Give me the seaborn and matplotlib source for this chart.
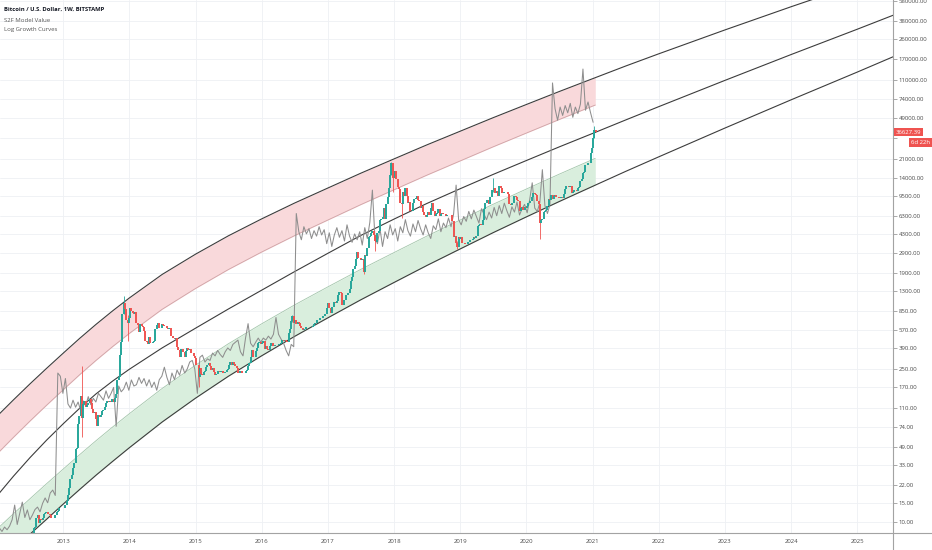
import numpy as np
import pandas as pd
import matplotlib
matplotlib.use('Agg')
import matplotlib.pyplot as plt
import seaborn as sns
from matplotlib.lines import Line2D
from matplotlib.ticker import FixedLocator, FixedFormatter, NullLocator

# Weekly closes BTC/USD (Bitstamp), one list per year
close_2012 = [6.7, 7.0, 7.7, 8.9, 9.1, 10.9, 11.5, 9.9, 10.6, 10.5, 11.0, 11.8, 12.2, 12.4,
              11.9, 11.8, 11.6, 10.8, 10.8, 11.0, 11.7, 12.4, 12.6, 13.4, 13.3, 13.4, 13.5]
close_2013 = [13.5, 14.2, 15.5, 17.5, 20.5, 24.5, 27, 31, 34.5, 46.5, 47, 78, 93, 142, 90, 119,
              128, 112, 117, 123, 133, 122, 108, 100, 102, 88, 76, 96, 91, 96, 104, 106, 113, 122,
              128, 124, 127, 124, 134, 125, 136, 149, 197, 213, 339, 440, 795, 1000, 880, 700,
              655, 732]
close_2014 = [900, 840, 820, 800, 830, 660, 630, 550, 650, 620, 600, 560, 450, 445, 420, 495,
              430, 435, 440, 450, 580, 630, 655, 595, 590, 640, 628, 620, 620, 590, 585, 590,
              500, 505, 478, 475, 478, 400, 375, 325, 385, 385, 355, 325, 365, 388, 370, 378,
              350, 350, 330, 318]
close_2015 = [275, 270, 210, 255, 225, 222, 235, 240, 260, 275, 285, 265, 245, 255, 235, 222,
              225, 240, 241, 236, 240, 230, 228, 233, 245, 250, 270, 292, 275, 292, 281, 264,
              257, 228, 229, 240, 230, 231, 232, 239, 247, 265, 284, 325, 372, 320, 325, 365,
              390, 435, 441, 422]
close_2016 = [430, 448, 385, 402, 378, 376, 402, 437, 433, 404, 414, 412, 416, 420, 420, 431,
              460, 448, 460, 455, 443, 530, 575, 685, 760, 660, 700, 650, 670, 655, 625, 590,
              570, 585, 575, 605, 608, 608, 602, 610, 617, 640, 657, 700, 705, 703, 730, 730,
              765, 770, 790, 900]
close_2017 = [1000, 900, 820, 920, 920, 1030, 1000, 1050, 1180, 1270, 1230, 970, 960, 1080,
              1200, 1180, 1250, 1350, 1580, 1720, 2040, 2200, 2520, 2950, 2600, 2580, 2500,
              2530, 1920, 2750, 2720, 3200, 4050, 4080, 4350, 4600, 4200, 3700, 3660, 4400,
              4600, 5700, 5900, 6150, 7400, 5900, 8000, 9300, 11200, 15000, 19000, 13800, 13800]
close_2018 = [16200, 13600, 11500, 11100, 8200, 8100, 10400, 9600, 11400, 9500, 8200, 8400,
              6900, 7000, 8300, 8900, 9200, 9600, 8700, 8500, 7350, 7700, 6750, 6450, 6150,
              6350, 6750, 6350, 7400, 8200, 7000, 6300, 6500, 6700, 7250, 6250, 6500, 6700,
              6600, 6600, 6300, 6400, 6350, 6400, 6350, 5600, 4000, 4100, 3550, 3250, 4000, 3850]
close_2019 = [4050, 3550, 3550, 3450, 3450, 3650, 3650, 3750, 3800, 3900, 4000, 3980, 4100,
              5050, 5150, 5300, 5200, 5750, 7200, 8200, 8700, 8700, 8000, 9300, 10800, 10800,
              11400, 10200, 10500, 9500, 11800, 11400, 10200, 10150, 10400, 10400, 10300,
              10000, 8050, 7900, 8300, 8200, 9550, 9300, 8800, 8500, 6900, 7400, 7500, 7100,
              7500, 7400]
close_2020 = [7750, 8200, 8650, 8600, 9350, 10150, 9900, 9650, 8550, 8000, 5350, 5800, 5900,
              6800, 6900, 7150, 7700, 8900, 8750, 9680, 8900, 9450, 9750, 9350, 9300, 9100,
              9070, 9250, 9200, 9950, 11100, 11680, 11900, 11650, 11700, 10250, 10330, 10930,
              10780, 10670, 11380, 11500, 13030, 13760, 15480, 15960, 18400, 18200, 19150,
              19200, 23800, 26250]
close_2021 = [32200, 38200, 36627.39]
first_weeks = ['2012-07-01', '2013-01-06', '2014-01-05', '2015-01-04', '2016-01-03',
               '2017-01-01', '2018-01-07', '2019-01-06', '2020-01-05', '2021-01-03']

# the longer wicks that show on the chart
wick_dates = ['2013-04-14', '2013-12-01', '2013-12-22', '2015-01-18', '2016-06-19',
              '2017-07-16', '2017-09-17', '2017-12-17', '2017-12-24', '2018-02-11',
              '2018-12-16', '2019-06-30', '2020-03-15', '2021-01-10']
wick_lows = [60, 795, 455, 170, 680, 1840, 2970, 15000, 10400, 6000, 3150, 10300, 3850, 32000]
wick_highs = [266, 1163, 780, 260, 780, 2300, 4100, 19666, 17800, 8700, 3700, 13880, 8000, 41950]

# S2F model value, one point every 14 days from 2012-01-01, split at the halvings
s2f_2012 = [8.3, 8.8, 8.2, 9.0, 8.5, 9.2, 10.5, 14.3, 9.5, 12.0, 15.2, 11.0, 12.9, 10.5, 11.6,
            13.0, 13.7, 12.4, 14.8, 16.6, 15.0, 18.4, 19.6, 17.5]
s2f_2016 = [230, 215, 150, 205, 120, 110, 130, 112, 125, 105,
            128, 115, 140, 118, 135, 125, 150, 140, 130, 158,
            135, 150, 170, 75, 175, 155, 165, 190, 160, 199,
            175, 180, 210, 185, 205, 175, 200, 170, 190, 160,
            200, 215, 260, 210, 180, 230, 200, 245, 220, 270,
            230, 250, 290, 300, 250, 150, 320, 335, 290, 310,
            300, 350, 330, 370, 340, 320, 360, 390, 370, 420,
            440, 460, 360, 330, 480, 650, 430, 400, 440, 480,
            440, 480, 460, 500, 470, 520, 740, 520, 470, 430,
            370, 330, 420, 400]
s2f_2020 = [6600, 4500, 3800, 5000, 4300, 4800, 3900, 4600, 4100, 5000,
            4200, 4700, 3500, 4400, 3300, 4200, 4900, 4000, 4600, 3700,
            5200, 4100, 3600, 4300, 3800, 4500, 3400, 4900, 3900, 5500,
            10800, 4000, 3500, 4800, 3300, 4500, 3900, 5200, 4200, 4800,
            3700, 5000, 4400, 5800, 4600, 4100, 5300, 4500, 5700, 4800,
            4200, 5200, 4400, 3900, 5100, 4700, 5900, 4500, 5400, 4900,
            6000, 5000, 6500, 12000, 5800, 5200, 6200, 5600, 6900, 5900,
            7100, 6200, 5400, 7300, 6500, 5800, 6800, 6000, 7500, 6300,
            7800, 6600, 8200, 7000, 6100, 7600, 6800, 8400, 6400, 7300,
            8000, 6700, 8800, 12600, 7400, 6900, 8300, 16600, 7800, 6600, 8000]
s2f_2021 = [103000, 60000, 47000, 62000, 52000, 64000, 55000, 67000, 50000, 62000, 54000,
            66000, 138000, 58000, 69000, 55000, 45000]

# log growth curves (denser where they bend most)
curve_dates = ['2012-01-01', '2012-04-01', '2012-07-01', '2012-10-01', '2013-01-01',
               '2013-04-01', '2013-07-01', '2013-10-01', '2014-01-01', '2014-07-01',
               '2015-01-01', '2015-07-01', '2016-01-01', '2016-07-01', '2017-01-01',
               '2017-07-01', '2018-01-01', '2018-07-01', '2019-01-01', '2019-07-01',
               '2020-01-01', '2020-07-01', '2021-01-15', '2021-07-01', '2022-01-01',
               '2023-01-01', '2024-01-01', '2025-01-01', '2025-08-01']
top_curve = [92.5, 130.6, 182.8, 253.8, 349.5, 475.9, 640.6, 852.1, 1117, 1832, 2805, 4126,
             5895, 8232, 11298, 15417, 20845, 27990, 37325, 49545, 65464, 86099, 115080,
             146890, 190330, 314470, 512280, 823300, 1084800]
mid_curve = [17.3, 26.2, 38.7, 56.0, 79.1, 109.4, 148.4, 194.5, 249.2, 390.4, 590.8, 884.3,
             1315, 1945, 2861, 4159, 5875, 8158, 11131, 15016, 20137, 26853, 36409, 47206,
             62608, 108780, 187320, 319520, 437930]
bottom_curve = [4.02, 5.58, 7.73, 10.6, 14.6, 19.8, 26.8, 35.9, 47.8, 82.1, 135.5, 214.7,
                330.6, 497.6, 736, 1074, 1548, 2212, 3135, 4409, 6150, 8507, 11989, 15995,
                21777, 39893, 72251, 129690, 183210]
# inner edges of the bands, up to the last candle
red_band_low = [41.8, 59.4, 83.6, 116.8, 161.8, 221.6, 300.2, 401.8, 529.7, 879.6, 1363, 2029,
                2935, 4146, 5761, 7957, 10889, 14800, 19975, 26837, 35892, 47775, 64710]
green_band_high = [8.60, 11.9, 16.3, 22.4, 30.5, 41.2, 55.4, 74.0, 97.8, 166.3, 271.4, 425.6,
                   648.1, 965.1, 1412, 2038, 2906, 4108, 5761, 8014, 11055, 15130, 21078]

price_ticks = [10, 15, 22, 33, 49, 74, 110, 170, 250, 390, 570, 850, 1300, 1900, 2900, 4300,
               6300, 9500, 14000, 21000, 32000, 49000, 74000, 110000, 170000, 260000, 380000,
               580000]
year_ticks = list(range(2013, 2026))
last_price = 36627.39

# assemble weekly candles
closes = [close_2012, close_2013, close_2014, close_2015, close_2016, close_2017, close_2018,
          close_2019, close_2020, close_2021]
frames = []
for vals, start in zip(closes, first_weeks):
    frames.append(pd.DataFrame({'date': pd.date_range(start, periods=len(vals), freq='7D'),
                                'close': vals}))
candles = pd.concat(frames, ignore_index=True)
candles['open'] = candles['close'].shift(1).fillna(candles['close'].iloc[0] * 0.95)
up = candles['close'] >= candles['open']
candle_color = np.where(up, '#26a69a', '#ef5350')

wicks = pd.DataFrame({'date': pd.to_datetime(wick_dates), 'low': wick_lows, 'high': wick_highs})
wicks = wicks.merge(candles[['date']].assign(color=candle_color), on='date', how='left')

s2f_values = s2f_2012 + s2f_2016 + s2f_2020 + s2f_2021
s2f = pd.DataFrame({'date': pd.date_range('2012-01-01', periods=len(s2f_values), freq='14D'),
                    'value': s2f_values})

cdates = pd.to_datetime(curve_dates)
nb = len(red_band_low)

sns.set_theme(style='white')
plt.rcParams['font.family'] = ['Open Sans', 'DejaVu Sans']

fig = plt.figure(figsize=(9.32, 5.5), dpi=100)
ax = fig.add_axes([0, 17 / 550, 893 / 932, 533 / 550])
ax.set_yscale('log')

# bands
ax.fill_between(cdates[:nb], red_band_low, top_curve[:nb], color='#f9d9db', lw=0, zorder=1)
ax.fill_between(cdates[:nb], bottom_curve[:nb], green_band_high, color='#d9eedd', lw=0, zorder=1)
sns.lineplot(x=cdates[:nb], y=red_band_low, color='#cfa3a6', lw=0.6, ax=ax, zorder=2)
sns.lineplot(x=cdates[:nb], y=green_band_high, color='#a3c6ab', lw=0.6, ax=ax, zorder=2)

# growth curves
for curve in (top_curve, mid_curve, bottom_curve):
    sns.lineplot(x=cdates, y=curve, color='#3c3c3c', lw=0.8, ax=ax, zorder=2)

# S2F model
sns.lineplot(data=s2f, x='date', y='value', color='#8e8e8e', lw=0.75, ax=ax, zorder=3)

# candles
ax.vlines(wicks['date'], wicks['low'], wicks['high'], colors=wicks['color'], lw=0.6, zorder=4)
ax.vlines(candles['date'], np.minimum(candles['open'], candles['close']),
          np.maximum(candles['open'], candles['close']),
          colors=candle_color, lw=1.4, zorder=4)

ax.set_xlim(pd.Timestamp('2012-01-18'), pd.Timestamp('2025-07-16'))
ax.set_ylim(7.94, 590000)
ax.set_xlabel('')
ax.set_ylabel('')

ax.yaxis.tick_right()
ax.yaxis.set_major_locator(FixedLocator(price_ticks))
ax.yaxis.set_minor_locator(NullLocator())
ax.yaxis.set_major_formatter(FixedFormatter(['' if p == 32000 else f'{p:.2f}' for p in price_ticks]))
ax.set_xticks(pd.to_datetime([f'{y}-01-01' for y in year_ticks]))
ax.set_xticklabels([str(y) for y in year_ticks])
ax.tick_params(axis='y', which='major', length=3, width=0.6, color='#9b9b9b', labelsize=4.3,
               labelcolor='#4a4a4a', pad=1, right=True, left=False)
ax.tick_params(axis='x', length=0, labelsize=4.3, labelcolor='#4a4a4a', pad=4)
ax.grid(True, color='#eef0f4', lw=0.6)
for side in ('top', 'left'):
    ax.spines[side].set_visible(False)
for side in ('right', 'bottom'):
    ax.spines[side].set_color('#a3a3a3')
    ax.spines[side].set_linewidth(0.8)

# axis lines running to the figure edges
fig.add_artist(Line2D([893 / 932, 893 / 932], [0, 17 / 550], color='#a3a3a3', lw=0.8))
fig.add_artist(Line2D([893 / 932, 1], [17 / 550, 17 / 550], color='#a3a3a3', lw=0.8))

# legend text top left
fig.text(4 / 932, 1 - 9 / 550, 'Bitcoin / U.S. Dollar, 1W, BITSTAMP', fontsize=4.2,
         weight='bold', color='#131722', va='center', ha='left')
fig.text(4 / 932, 1 - 20 / 550, 'S2F Model Value', fontsize=4.3, color='#555555',
         va='center', ha='left')
fig.text(4 / 932, 1 - 30 / 550, 'Log Growth Curves', fontsize=4.3, color='#555555',
         va='center', ha='left')

# last price labels
ax.annotate(f'{last_price:.2f}', xy=(1, last_price), xycoords=('axes fraction', 'data'),
            xytext=(2, 0), textcoords='offset points', fontsize=4.3, color='white',
            va='center', ha='left',
            bbox=dict(boxstyle='square,pad=0.3', fc='#ef5350', ec='none'))
ax.annotate('6d 22h', xy=(1, last_price), xycoords=('axes fraction', 'data'),
            xytext=(26.5, -7.3), textcoords='offset points', fontsize=4.3, color='white',
            va='center', ha='right',
            bbox=dict(boxstyle='square,pad=0.3', fc='#ef5350', ec='none'))

fig.savefig('out.png', dpi=100)
